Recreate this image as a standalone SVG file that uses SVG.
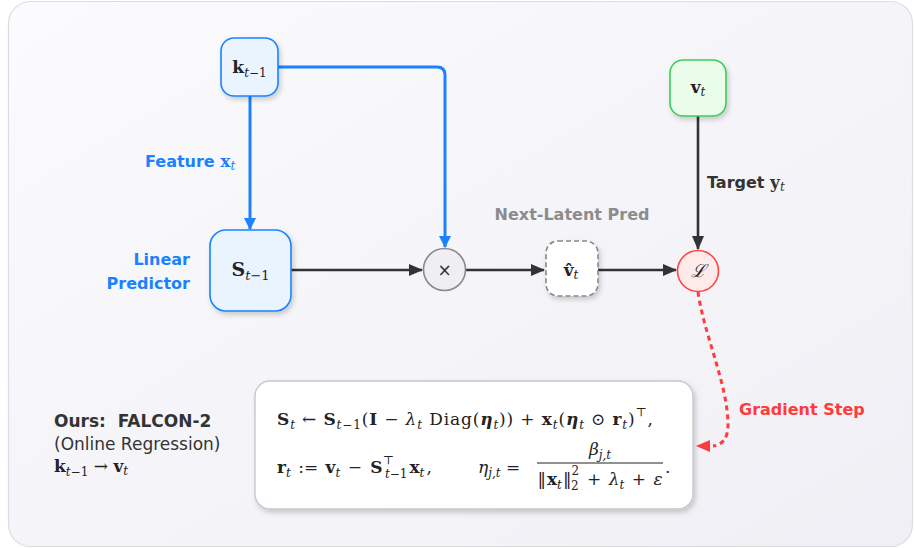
<svg xmlns="http://www.w3.org/2000/svg" width="914" height="548" viewBox="0 0 914 548">
<defs>
<linearGradient id="bg" x1="0" y1="0" x2="1" y2="1">
<stop offset="0" stop-color="#fbfbfd"/>
<stop offset="1" stop-color="#efeff5"/>
</linearGradient>
<filter id="sh" x="-30%" y="-30%" width="160%" height="160%">
<feDropShadow dx="2" dy="3" stdDeviation="2.5" flood-color="#000" flood-opacity="0.18"/>
</filter>
<marker id="ab" viewBox="0 0 12 12" refX="11" refY="6" markerWidth="12" markerHeight="12" markerUnits="userSpaceOnUse" orient="auto">
<path d="M0,0 L12,6 L0,12 Z" fill="#1a82ff"/>
</marker>
<marker id="ak" viewBox="0 0 14 12" refX="13" refY="6" markerWidth="14" markerHeight="12" markerUnits="userSpaceOnUse" orient="auto">
<path d="M0,0 L14,6 L0,12 Z" fill="#333"/>
</marker>
<marker id="ar" viewBox="0 0 14 12" refX="13" refY="6" markerWidth="14" markerHeight="12" markerUnits="userSpaceOnUse" orient="auto">
<path d="M0,0 L14,6 L0,12 Z" fill="#ff3b3b"/>
</marker>
</defs>
<style>
.lbl{font-family:"DejaVu Sans","Liberation Sans",sans-serif;font-weight:bold;font-size:16px}
.m{font-family:"DejaVu Serif","Liberation Serif",serif;fill:#222}
.b{font-weight:bold}
.i{font-style:italic}
.s{font-size:12px}
.node{stroke-width:1.6}
</style>
<rect x="8.5" y="1.5" width="904" height="545" rx="22" fill="url(#bg)" stroke="#dcdce2" stroke-width="1.2"/>

<g id="connectors" fill="none">
<path d="M278,67 H437 Q445,67 445,75 V247" stroke="#1a82ff" stroke-width="3" marker-end="url(#ab)"/>
<path d="M250,96 V229" stroke="#1a82ff" stroke-width="3" marker-end="url(#ab)"/>
<path d="M291,270 H422" stroke="#333" stroke-width="2.6" marker-end="url(#ak)"/>
<path d="M466,270 H544" stroke="#333" stroke-width="2.6" marker-end="url(#ak)"/>
<path d="M598,270 H676" stroke="#333" stroke-width="2.6" marker-end="url(#ak)"/>
<path d="M698,116 V249" stroke="#333" stroke-width="2.6" marker-end="url(#ak)"/>
<path d="M698,292 C704,335 728,385 728,425 C728,440 721,445 713,446" stroke="#ff3b3b" stroke-width="3" stroke-dasharray="5 4"/>
<path d="M713,446 L697,446" stroke="none" marker-end="url(#ar)"/>
</g>

<g id="k_prev">
<rect class="node" x="221" y="38" width="57" height="58" rx="13" fill="#eaf4ff" stroke="#1a82ff" filter="url(#sh)"/>
<text class="m" x="249.5" y="73" text-anchor="middle" font-size="17"><tspan class="b">k</tspan><tspan class="i s" dy="4">t</tspan><tspan class="s">−1</tspan></text>
</g>

<g id="S_prev">
<rect class="node" x="210" y="230" width="81" height="81" rx="16" fill="#eaf4ff" stroke="#1a82ff" filter="url(#sh)"/>
<text class="m" x="250.5" y="276" text-anchor="middle" font-size="19"><tspan class="b">S</tspan><tspan class="i" font-size="13" dy="4">t</tspan><tspan font-size="13">−1</tspan></text>
</g>

<g id="mult">
<circle cx="444.5" cy="269.5" r="21" fill="#eeeef3" stroke="#8a8a8a" stroke-width="1.6"/>
<text x="444.5" y="276" text-anchor="middle" font-family="DejaVu Sans,sans-serif" font-size="17" fill="#333">×</text>
</g>

<g id="v_hat">
<rect x="546" y="241" width="52" height="55" rx="12" fill="#ffffff" stroke="#888" stroke-width="1.6" stroke-dasharray="5 3" filter="url(#sh)"/>
<text class="m" x="571" y="276" text-anchor="middle" font-size="17"><tspan class="b">v̂</tspan><tspan class="i s" dy="3">t</tspan></text>
</g>

<g id="loss">
<circle cx="698" cy="271" r="20.5" fill="#ffeaea" stroke="#ff4444" stroke-width="1.6"/>
<text x="698" y="277" text-anchor="middle" font-size="18" font-style="italic" font-family="Liberation Serif,serif" fill="#222">ℒ</text>
</g>

<g id="v_t">
<rect class="node" x="670" y="60" width="56" height="56" rx="13" fill="#eafdea" stroke="#3dcc5a" filter="url(#sh)"/>
<text class="m" x="698" y="93" text-anchor="middle" font-size="17"><tspan class="b">v</tspan><tspan class="i s" dy="3">t</tspan></text>
</g>

<g id="labels">
<text class="lbl" x="145" y="167" fill="#1a82ff">Feature <tspan font-family="DejaVu Serif,serif" font-size="17">x</tspan><tspan font-family="DejaVu Serif,serif" font-style="italic" font-weight="normal" font-size="12" dy="3">t</tspan></text>
<text class="lbl" x="190" y="265" fill="#1a82ff" text-anchor="end">Linear</text>
<text class="lbl" x="190" y="289" fill="#1a82ff" text-anchor="end">Predictor</text>
<text class="lbl" x="572" y="220" fill="#8c8c8c" text-anchor="middle">Next-Latent Pred</text>
<text class="lbl" x="707" y="188" fill="#333">Target <tspan font-family="DejaVu Serif,serif" font-size="17">y</tspan><tspan font-family="DejaVu Serif,serif" font-style="italic" font-weight="normal" font-size="12" dy="3">t</tspan></text>
<text class="lbl" x="739" y="415" fill="#ff3b3b">Gradient Step</text>
</g>

<g id="ours">
<text x="54" y="427" font-family="DejaVu Sans,sans-serif" font-size="17" font-weight="bold" fill="#333" xml:space="preserve">Ours:  FALCON-2</text>
<text x="54" y="450" font-family="DejaVu Sans,sans-serif" font-size="17" fill="#333">(Online Regression)</text>
<text class="m" x="54" y="472" font-size="17"><tspan class="b">k</tspan><tspan class="i s" dy="4">t</tspan><tspan class="s">−1</tspan><tspan dy="-4"> → </tspan><tspan class="b">v</tspan><tspan class="i s" dy="3">t</tspan></text>
</g>

<g id="formula">
<rect x="255" y="381" width="438" height="128" rx="15" fill="#ffffff" stroke="#c8c8cc" stroke-width="1.4" filter="url(#sh)"/>
<text class="m" x="277" y="425" font-size="17" textLength="376" lengthAdjust="spacing"><tspan class="b">S</tspan><tspan class="i s" dy="4">t</tspan><tspan dy="-4"> ← </tspan><tspan class="b">S</tspan><tspan class="i s" dy="4">t</tspan><tspan class="s">−1</tspan><tspan dy="-4">(</tspan><tspan class="b">I</tspan><tspan> − </tspan><tspan class="i">λ</tspan><tspan class="i s" dy="4">t</tspan><tspan dy="-4"> Diag(</tspan><tspan class="b i">η</tspan><tspan class="i s" dy="4">t</tspan><tspan dy="-4">)) + </tspan><tspan class="b">x</tspan><tspan class="i s" dy="4">t</tspan><tspan dy="-4">(</tspan><tspan class="b i">η</tspan><tspan class="i s" dy="4">t</tspan><tspan dy="-4"> ⊙ </tspan><tspan class="b">r</tspan><tspan class="i s" dy="4">t</tspan><tspan dy="-4">)</tspan><tspan class="s" dy="-9">⊤</tspan><tspan dy="9">,</tspan></text>
<text class="m" x="277" y="473" font-size="17"><tspan class="b">r</tspan><tspan class="i s" dy="4">t</tspan><tspan dx="2" dy="-4"> := </tspan><tspan class="b" dx="2">v</tspan><tspan class="i s" dy="4">t</tspan><tspan dx="2" dy="-4"> − </tspan><tspan class="b" dx="3">S</tspan><tspan class="s" dy="-9">⊤</tspan><tspan class="i s" dx="-9" dy="14">t</tspan><tspan class="s">−1</tspan><tspan class="b" dx="2" dy="-5">x</tspan><tspan class="i s" dy="4">t</tspan><tspan dx="2" dy="-4">,</tspan></text>
<text class="m" x="478" y="473" font-size="17"><tspan class="i">η</tspan><tspan class="i s" dy="4">j,t</tspan><tspan dy="-4"> =</tspan></text>
<text class="m" x="600" y="455" font-size="17" text-anchor="middle"><tspan class="i">β</tspan><tspan class="i s" dy="4">j,t</tspan></text>
<line x1="537" y1="463" x2="663" y2="463" stroke="#222" stroke-width="1"/>
<text class="m" x="600" y="485" font-size="17" text-anchor="middle"><tspan>‖</tspan><tspan class="b" dx="1">x</tspan><tspan class="i s" dy="4">t</tspan><tspan dx="1" dy="-4">‖</tspan><tspan class="s" dy="-10">2</tspan><tspan class="s" dx="-8" dy="15">2</tspan><tspan dx="3" dy="-5"> + </tspan><tspan class="i" dx="2">λ</tspan><tspan class="i s" dy="4">t</tspan><tspan dx="2" dy="-4"> + </tspan><tspan class="i" dx="2">ε</tspan></text>
<text class="m" x="665" y="473" font-size="17">.</text>
</g>
</svg>
